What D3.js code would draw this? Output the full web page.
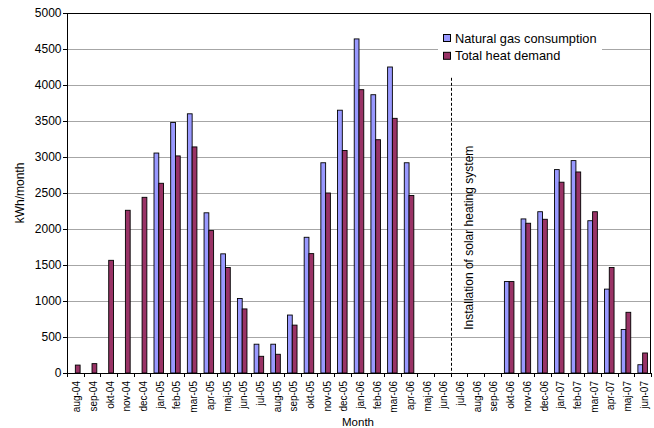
<!DOCTYPE html>
<html>
<head>
<meta charset="utf-8">
<script src="https://cdn.jsdelivr.net/npm/d3@7"></script>
<style>
  html, body { margin: 0; padding: 0; background: #fff; }
  svg { display: block; font-family: "Liberation Sans", Arial, sans-serif; }
</style>
</head>
<body>
<svg id="chart" width="654" height="428"></svg>
<script>
// Monthly energy figures, Aug 2004 – Jun 2007 (kWh/month)
const months = [
  "aug-04","sep-04","okt-04","nov-04","dec-04",
  "jan-05","feb-05","mar-05","apr-05","maj-05","jun-05","jul-05","aug-05","sep-05","okt-05","nov-05","dec-05",
  "jan-06","feb-06","mar-06","apr-06","maj-06","jun-06","jul-06","aug-06","sep-06","okt-06","nov-06","dec-06",
  "jan-07","feb-07","mar-07","apr-07","maj-07","jun-07"
];
const gasConsumption = [
  0, 0, 0, 0, 0,
  3055, 3480, 3600, 2225, 1655, 1035, 400, 400, 805, 1885, 2920, 3650,
  4640, 3865, 4250, 2920, 0, 0, 0, 0, 0, 1270, 2140, 2240,
  2825, 2950, 2115, 1165, 605, 115
];
const heatDemand = [
  110, 130, 1565, 2260, 2440,
  2635, 3015, 3140, 1978, 1465, 890, 232, 260, 665, 1658, 2500, 3090,
  3935, 3240, 3537, 2465, 0, 0, 0, 0, 0, 1270, 2080, 2135,
  2650, 2792, 2240, 1465, 843, 278
];
const seriesNames = ["Natural gas consumption", "Total heat demand"];
const seriesColors = ["#9999ff", "#993366"];
const yTicks = [0, 500, 1000, 1500, 2000, 2500, 3000, 3500, 4000, 4500, 5000];
const installMonth = "jul-06";
const installLabel = "Installation of solar heating system";

const svg = d3.select("#chart");
const margin = { left: 67, right: 3, top: 13, bottom: 55 };
const W = 654, H = 428;
const plotW = W - margin.left - margin.right;
const plotH = H - margin.top - margin.bottom;

const g = svg.append("g").attr("transform", `translate(${margin.left},${margin.top})`);

const x = d3.scaleBand().domain(months).range([0, plotW]).paddingInner(0).paddingOuter(0);
const y = d3.scaleLinear().domain([0, 5000]).range([plotH, 0]);

// Bars sit in the middle of each month: two bars, gap of 1.5 bar widths
const bw = x.bandwidth() / 3.5;
const inner = d3.scaleBand().domain([0, 1]).range([0, 2 * bw]);

// Horizontal gridlines
g.append("g").selectAll("line")
  .data(yTicks.filter(v => v > 0 && v < 5000))
  .join("line")
  .attr("x1", 0).attr("x2", plotW)
  .attr("y1", d => Math.round(y(d)) + 0.5).attr("y2", d => Math.round(y(d)) + 0.5)
  .attr("stroke", "#a6a6a6").attr("stroke-width", 1);

// Plot frame
g.append("rect")
  .attr("x", 0.5).attr("y", 0.5)
  .attr("width", plotW - 1).attr("height", plotH)
  .attr("fill", "none").attr("stroke", "#000").attr("stroke-width", 1);

// Bars
const rows = months.map((m, i) => ({ m, vals: [gasConsumption[i], heatDemand[i]] }));
const groups = g.append("g").selectAll("g")
  .data(rows)
  .join("g")
  .attr("transform", d => `translate(${x(d.m) + (x.bandwidth() - 2 * bw) / 2},0)`);
groups.selectAll("rect")
  .data(d => d.vals.map((v, k) => ({ v, k })).filter(e => e.v > 0))
  .join("rect")
  .attr("x", e => inner(e.k))
  .attr("y", e => y(e.v))
  .attr("width", bw)
  .attr("height", e => plotH - y(e.v))
  .attr("fill", e => seriesColors[e.k])
  .attr("stroke", "#000").attr("stroke-width", 0.9);

// Y axis
const yAxis = g.append("g")
  .call(d3.axisLeft(y).tickValues(yTicks).tickSize(4).tickPadding(1.5).tickFormat(d3.format("d")));
yAxis.select(".domain").attr("stroke", "#000");
yAxis.selectAll("text").attr("font-size", 12).attr("fill", "#000")
  .attr("font-family", "Liberation Sans, Arial, sans-serif");

// X axis: ticks on month boundaries, labels rotated
const xAxisG = g.append("g").attr("transform", `translate(0,${plotH})`);
xAxisG.append("line").attr("x1", 0).attr("x2", plotW).attr("y1", 0.5).attr("y2", 0.5).attr("stroke", "#000");
xAxisG.selectAll("line.tick")
  .data(months.concat(["__end"]))
  .join("line")
  .attr("class", "tick")
  .attr("x1", (d, i) => Math.round(i * x.step()) + 0.5)
  .attr("x2", (d, i) => Math.round(i * x.step()) + 0.5)
  .attr("y1", 0).attr("y2", 4)
  .attr("stroke", "#000");
xAxisG.selectAll("text")
  .data(months)
  .join("text")
  .attr("transform", d => `translate(${x(d) + x.bandwidth() / 2 + 5},8) rotate(-90)`)
  .attr("text-anchor", "end")
  .attr("font-size", 10)
  .attr("fill", "#000")
  .text(d => d);

// Axis titles
svg.append("text")
  .attr("x", margin.left + plotW / 2 - 1).attr("y", 426)
  .attr("text-anchor", "middle").attr("font-size", 11.5).text("Month");
svg.append("text")
  .attr("transform", `translate(24,${margin.top + plotH / 2}) rotate(-90)`)
  .attr("text-anchor", "middle").attr("font-size", 12).text("kWh/month");

// Installation marker
const xi = Math.round(x(installMonth)) + 0.5;
g.append("line")
  .attr("x1", xi).attr("x2", xi)
  .attr("y1", y(4100)).attr("y2", plotH)
  .attr("stroke", "#000").attr("stroke-width", 1).attr("stroke-dasharray", "3,2");
g.append("text")
  .attr("transform", `translate(${xi + 21},${y(600)}) rotate(-90)`)
  .attr("text-anchor", "start").attr("font-size", 12).text(installLabel);

// Legend
const lg = svg.append("g").attr("transform", "translate(440,27)");
lg.append("rect").attr("x", -2).attr("y", 0).attr("width", 164).attr("height", 38).attr("fill", "#fff");
seriesNames.forEach((name, k) => {
  lg.append("rect")
    .attr("x", 3.5).attr("y", 7.5 + k * 17.8).attr("width", 7).attr("height", 7)
    .attr("fill", seriesColors[k]).attr("stroke", "#000");
  lg.append("text")
    .attr("x", 15).attr("y", 15.5 + k * 17.5)
    .attr("font-size", 12.8).text(name);
});
</script>
</body>
</html>
